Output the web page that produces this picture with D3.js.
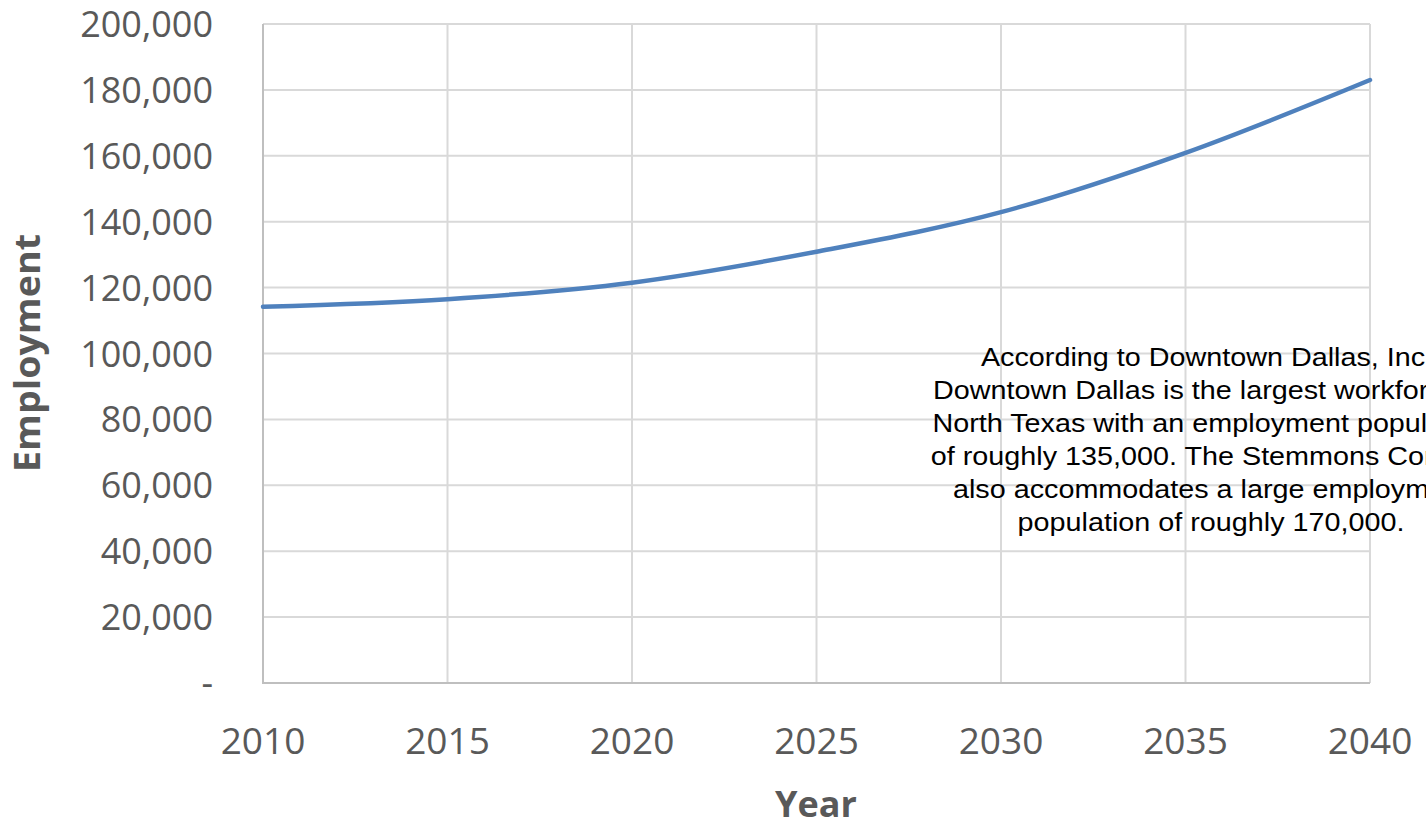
<!DOCTYPE html>
<html><head><meta charset="utf-8">
<script src="https://cdn.jsdelivr.net/npm/d3@7/dist/d3.min.js"></script>
<style>html,body{margin:0;padding:0;background:#fff;overflow:hidden}</style>
</head><body>
<svg id="c" width="1426" height="825"></svg>
<script>
const years = [2010, 2015, 2020, 2025, 2030, 2035, 2040];
const employment = [114200, 116500, 121500, 130900, 142900, 160900, 183000];
const yTicks = [0, 20000, 40000, 60000, 80000, 100000, 120000, 140000, 160000, 180000, 200000];
const xTicks = [2010, 2015, 2020, 2025, 2030, 2035, 2040];
const noteLines = [
  "According to Downtown Dallas, Inc.,",
  "Downtown Dallas is the largest workforce in",
  "North Texas with an employment population",
  "of roughly 135,000. The Stemmons Corridor",
  "also accommodates a large employment",
  "population of roughly 170,000."
];

const svg = d3.select("#c");
const pL = 263, pR = 1370, pT = 24, pB = 683;
const x = d3.scaleLinear().domain([2010, 2040]).range([pL, pR]);
const y = d3.scaleLinear().domain([0, 200000]).range([pB, pT]);
const tickFont = "'Open Sans', 'Noto Sans', sans-serif";

// grid
svg.append("g").selectAll("line").data(yTicks.filter(d => d > 0)).join("line")
  .attr("x1", pL).attr("x2", pR).attr("y1", d => y(d)).attr("y2", d => y(d))
  .attr("stroke", "#d9d9d9").attr("stroke-width", 2);
svg.append("g").selectAll("line").data(xTicks.filter(d => d > 2010)).join("line")
  .attr("y1", pT).attr("y2", pB).attr("x1", d => x(d)).attr("x2", d => x(d))
  .attr("stroke", "#d9d9d9").attr("stroke-width", 2);
// axis lines
svg.append("line").attr("x1", pL).attr("x2", pL).attr("y1", pT).attr("y2", pB + 1)
  .attr("stroke", "#bfbfbf").attr("stroke-width", 2);
svg.append("line").attr("x1", pL).attr("x2", pR).attr("y1", pB).attr("y2", pB)
  .attr("stroke", "#bfbfbf").attr("stroke-width", 2);

// y tick labels
const fmt = d3.format(",");
svg.append("g").selectAll("text").data(yTicks).join("text")
  .attr("x", 213).attr("y", d => y(d) + 13)
  .attr("text-anchor", "end")
  .attr("font-family", tickFont).attr("font-size", 36).attr("fill", "#595959")
  .text(d => d === 0 ? "-" : fmt(d));

// x tick labels
svg.append("g").selectAll("text").data(xTicks).join("text")
  .attr("x", d => x(d)).attr("y", 754)
  .attr("text-anchor", "middle")
  .attr("font-family", tickFont).attr("font-size", 37).attr("fill", "#595959")
  .text(d => d);

// axis titles
svg.append("text").attr("x", 816).attr("y", 817).attr("text-anchor", "middle")
  .attr("font-family", tickFont).attr("font-weight", "bold").attr("font-size", 36).attr("fill", "#595959")
  .text("Year");
svg.append("text").attr("transform", "translate(40,353) rotate(-90)").attr("text-anchor", "middle")
  .attr("font-family", tickFont).attr("font-weight", "bold").attr("font-size", 35).attr("fill", "#595959")
  .attr("textLength", 238).attr("lengthAdjust", "spacingAndGlyphs")
  .text("Employment");

// line
const line = d3.line().x((d, i) => x(years[i])).y(d => y(d)).curve(d3.curveMonotoneX);
svg.append("path").datum(employment).attr("d", line)
  .attr("fill", "none").attr("stroke", "#4f81bd").attr("stroke-width", 4.5).attr("stroke-linecap", "round");

// annotation
svg.append("g").attr("transform", "translate(1211,0) scale(1.15,1)")
  .selectAll("text").data(noteLines).join("text")
  .attr("x", 0).attr("y", (d, i) => 366 + i * 33)
  .attr("text-anchor", "middle")
  .attr("font-family", "'Liberation Sans', Arial, sans-serif").attr("font-size", 25).attr("fill", "#000")
  .text(d => d);
</script>
</body></html>
